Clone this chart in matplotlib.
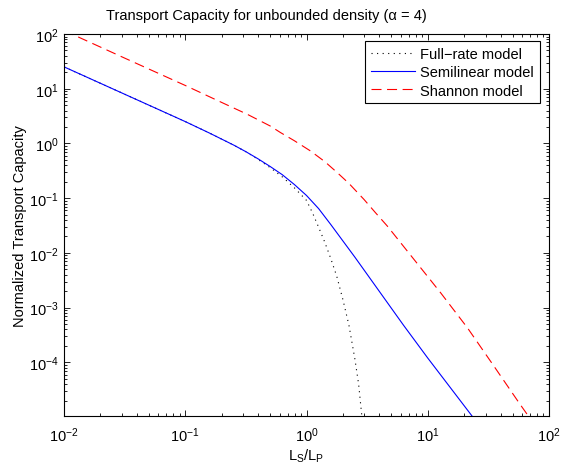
import matplotlib
matplotlib.use("Agg")
import matplotlib.pyplot as plt
from matplotlib.ticker import LogLocator, LogFormatterSciNotation, NullFormatter
import numpy as np

# ---- data (log10 values) ----
semi_logx = [-2.0, -1.5, -1.0, -0.8, -0.6, -0.5, -0.4, -0.3, -0.2, -0.1, 0.0, 0.1, 0.2, 0.3, 0.4, 0.6, 0.8, 1.0, 1.2, 1.4, 1.6]
semi_logy = [1.40, 0.90, 0.40, 0.19, -0.03, -0.15, -0.28, -0.42, -0.57, -0.75, -0.95, -1.19, -1.48, -1.78, -2.08, -2.70, -3.32, -3.92, -4.50, -5.08, -5.70]

full_logx = [-2.0, -1.5, -1.0, -0.8, -0.6, -0.5, -0.4, -0.3, -0.2, -0.1, 0.0, 0.05, 0.1, 0.15, 0.2, 0.25, 0.3, 0.35, 0.4, 0.43, 0.455, 0.47]
full_logy = [1.40, 0.90, 0.40, 0.19, -0.03, -0.15, -0.29, -0.44, -0.61, -0.81, -1.04, -1.27, -1.53, -1.80, -2.10, -2.43, -2.85, -3.32, -3.95, -4.40, -4.95, -5.20]

shan_logx = [-2.0, -1.5, -1.0, -0.876, -0.7, -0.49, -0.3, -0.215, -0.1, 0.033, 0.15, 0.254, 0.35, 0.474, 0.567, 0.667, 0.887, 1.107, 1.328, 1.548, 1.755, 1.9]
shan_logy = [2.064, 1.56, 1.06, 0.932, 0.75, 0.535, 0.32, 0.20, 0.05, -0.137, -0.33, -0.533, -0.73, -1.022, -1.26, -1.51, -2.12, -2.73, -3.37, -4.075, -4.745, -5.20]

labels = ["Full\u2212rate model", "Semilinear model", "Shannon model"]
title = "Transport Capacity for unbounded density (\u03b1 = 4)"
xlabel = "L$_\\mathregular{S}$/L$_\\mathregular{P}$"
ylabel = "Normalized Transport Capacity"
xticks = [1e-2, 1e-1, 1e0, 1e1, 1e2]
yticks = [1e-4, 1e-3, 1e-2, 1e-1, 1e0, 1e1, 1e2]

plt.rcParams['font.family'] = ['Liberation Sans', 'DejaVu Sans']
plt.rcParams['mathtext.fontset'] = 'custom'
plt.rcParams['mathtext.rm'] = 'Liberation Sans'
plt.rcParams['mathtext.it'] = 'Liberation Sans'
plt.rcParams['mathtext.default'] = 'regular'
FS = 10.5

W, H = 561, 464
fig = plt.figure(figsize=(W / 100, H / 100), dpi=100)
L, R, T, B = 64, 549, 35, 417
ax = fig.add_axes([L / W, 1 - B / H, (R - L) / W, (B - T) / H])

ax.plot(10 ** np.array(full_logx), 10 ** np.array(full_logy), color='black',
        lw=0.8, linestyle=(0, (1, 4)), label=labels[0])
ax.plot(10 ** np.array(semi_logx), 10 ** np.array(semi_logy), color='blue',
        lw=0.8, label=labels[1])
ax.plot(10 ** np.array(shan_logx), 10 ** np.array(shan_logy), color='red',
        lw=0.8, linestyle=(0, (9, 5)), label=labels[2])

ax.set_xscale('log')
ax.set_yscale('log')
ax.set_xlim(1e-2, 1e2)
ax.set_ylim(1.05e-5, 1e2)
ax.set_xticks(xticks)
ax.set_yticks(yticks)
ax.xaxis.set_major_formatter(LogFormatterSciNotation())
ax.yaxis.set_major_formatter(LogFormatterSciNotation())
ax.xaxis.set_minor_locator(LogLocator(base=10, subs=np.arange(2, 10)))
ax.yaxis.set_minor_locator(LogLocator(base=10, subs=np.arange(2, 10), numticks=20))
ax.xaxis.set_minor_formatter(NullFormatter())
ax.yaxis.set_minor_formatter(NullFormatter())
ax.tick_params(which='both', direction='in', top=True, right=True, width=0.6, labelsize=FS)
ax.tick_params(which='major', length=4.5)
ax.tick_params(which='minor', length=2.5)
ax.tick_params(axis='x', pad=7)
ax.tick_params(axis='y', pad=4)
for s in ax.spines.values():
    s.set_linewidth(0.8)

fig.text(266 / W, 1 - 16 / H, title, ha='center', va='center', fontsize=FS)
fig.text(306 / W, 1 - 461 / H, xlabel, ha='center', va='baseline', fontsize=FS)
fig.text(20 / W, 1 - 226 / H, ylabel, ha='center', va='center', rotation=90, fontsize=FS)

leg = ax.legend(loc='upper right', bbox_to_anchor=(540 / W, 1 - 42 / H),
                bbox_transform=fig.transFigure, borderaxespad=0, fancybox=False,
                edgecolor='black', framealpha=1, fontsize=FS, handlelength=3.0,
                handletextpad=0.4, labelspacing=0.3, borderpad=0.4)
leg.get_frame().set_linewidth(0.8)

fig.savefig("out.png", dpi=100)
